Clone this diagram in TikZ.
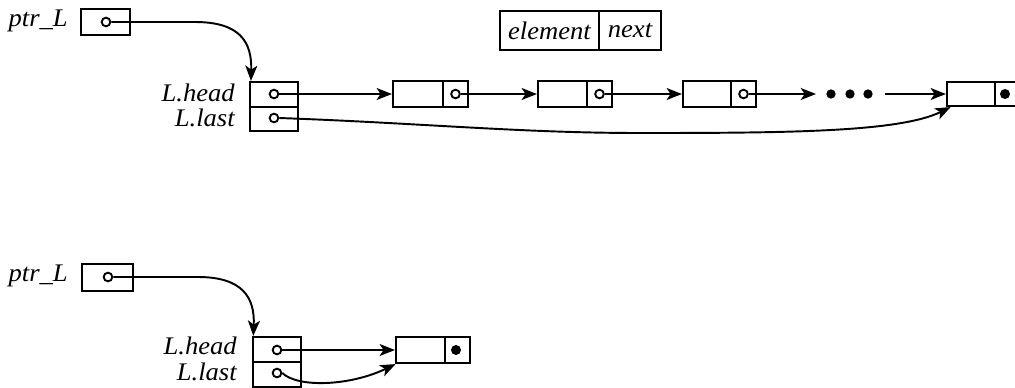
\documentclass[tikz,border=0pt]{standalone}
\usepackage{fontspec}
\setmainfont{Liberation Serif}
\usetikzlibrary{arrows.meta}
\newcommand{\lbl}[1]{\scalebox{1.05}[1]{\fontsize{19}{22}\selectfont\itshape #1}}
\tikzset{
  cell/.style={draw, line width=1.6pt, rectangle, inner sep=0pt, fill=white},
  ptrdot/.style={draw, circle, line width=1.4pt, fill=white, minimum size=6.5pt, inner sep=0pt},
  nulldot/.style={circle, fill=black, minimum size=7.5pt, inner sep=0pt},
  bigdot/.style={circle, fill=black, minimum size=7pt, inner sep=0pt},
  ptr/.style={line width=1.45pt, -{Stealth[length=11.5pt,width=9pt,inset=3pt]}},
  txt/.style={inner sep=0pt, anchor=east}
}
\begin{document}
\begin{tikzpicture}[x=0.75pt,y=-0.75pt]
\useasboundingbox (0,0) rectangle (1015,387);
% ---------------- top diagram ----------------
\node[txt] (tptr) at (68,21) {\lbl{ptr\_L}};
\node[cell, minimum width=36.75pt, minimum height=19.5pt] (pA) at (105.5,22) {};
\node[ptrdot] (cpA) at (106,22) {};

\node[txt] (thA) at (235,93) {\lbl{L.head}};
\node[txt] (tlA) at (235,118) {\lbl{L.last}};
\node[cell, minimum width=36pt, minimum height=18.75pt] (LhA) at (274,94.5) {};
\node[cell, minimum width=36pt, minimum height=18pt] (LlA) at (274,119) {};
\node[ptrdot] (chA) at (274,94) {};
\node[ptrdot] (clA) at (274,118) {};

\node[cell, minimum width=37.5pt, minimum height=19.5pt] (n1e) at (418,94) {};
\node[cell, minimum width=18.75pt, minimum height=19.5pt] (n1n) at (455.5,94) {};
\node[ptrdot] (c1) at (455.5,94) {};
\node[cell, minimum width=36.75pt, minimum height=19.5pt] (n2e) at (562.5,94) {};
\node[cell, minimum width=18.75pt, minimum height=19.5pt] (n2n) at (599.5,94) {};
\node[ptrdot] (c2) at (599.5,94) {};
\node[cell, minimum width=36pt, minimum height=19pt] (n3e) at (707,94) {};
\node[cell, minimum width=18.75pt, minimum height=19pt] (n3n) at (743.5,94) {};
\node[ptrdot] (c3) at (743.5,94) {};

\node[bigdot] (d1) at (831,94) {};
\node[bigdot] (d2) at (850,94) {};
\node[bigdot] (d3) at (868,94) {};
\coordinate (dotin) at (816,94);
\coordinate (dotout) at (885,94);

\node[cell, minimum width=36pt, minimum height=18pt] (lastE) at (971,94) {};
\node[cell, minimum width=18.75pt, minimum height=18pt] (lastN) at (1007.5,94) {};
\node[nulldot] (lastD) at (1005,94) {};

% legend
\node[cell, minimum width=74.25pt, minimum height=29.25pt] (legE) at (549.5,30.5) {\lbl{element}};
\node[cell, minimum width=46.5pt, minimum height=29.25pt] (legN) at (630,30.5) {\lbl{next}};

% connectors
\draw[ptr] (cpA.east) -- (195,22) .. controls (240,22) and (252,42) .. ([xshift=1.5pt]LhA.north west);
\draw[ptr] (chA) -- (n1e.west);
\draw[ptr] (c1) -- (n2e.west);
\draw[ptr] (c2) -- (n3e.west);
\draw[ptr] (c3) -- (dotin);
\draw[ptr] (dotout) -- (lastE.west);
\draw[ptr] (clA.east) .. controls (420,123) and (520,133) .. (640,133)
  .. controls (790,133) and (900,132) .. ([xshift=3.5pt]lastE.south west);

% ---------------- bottom diagram ----------------
\node[txt] (tptrB) at (68,276) {\lbl{ptr\_L}};
\node[cell, minimum width=38.25pt, minimum height=20.25pt] (pB) at (107.5,277.5) {};
\node[ptrdot] (cpB) at (108,277) {};

\node[txt] (thB) at (237,346) {\lbl{L.head}};
\node[txt] (tlB) at (237,372) {\lbl{L.last}};
\node[cell, minimum width=36pt, minimum height=18.75pt] (LhB) at (277,349.5) {};
\node[cell, minimum width=36pt, minimum height=18.75pt] (LlB) at (277,374.5) {};
\node[ptrdot] (chB) at (277,350) {};
\node[ptrdot] (clB) at (277,373) {};

\node[cell, minimum width=36.75pt, minimum height=19.5pt] (mE) at (420.5,350) {};
\node[cell, minimum width=18.75pt, minimum height=19.5pt] (mN) at (457.5,350) {};
\node[nulldot] (mD) at (456,350) {};

\draw[ptr] (cpB.east) -- (198,277) .. controls (242,277) and (255,297) .. ([xshift=1pt]LhB.north west);
\draw[ptr] (chB) -- (mE.west);
\draw[ptr] (clB.east) .. controls (298,388) and (350,386) .. ([xshift=0.5pt]mE.south west);
\end{tikzpicture}
\end{document}
